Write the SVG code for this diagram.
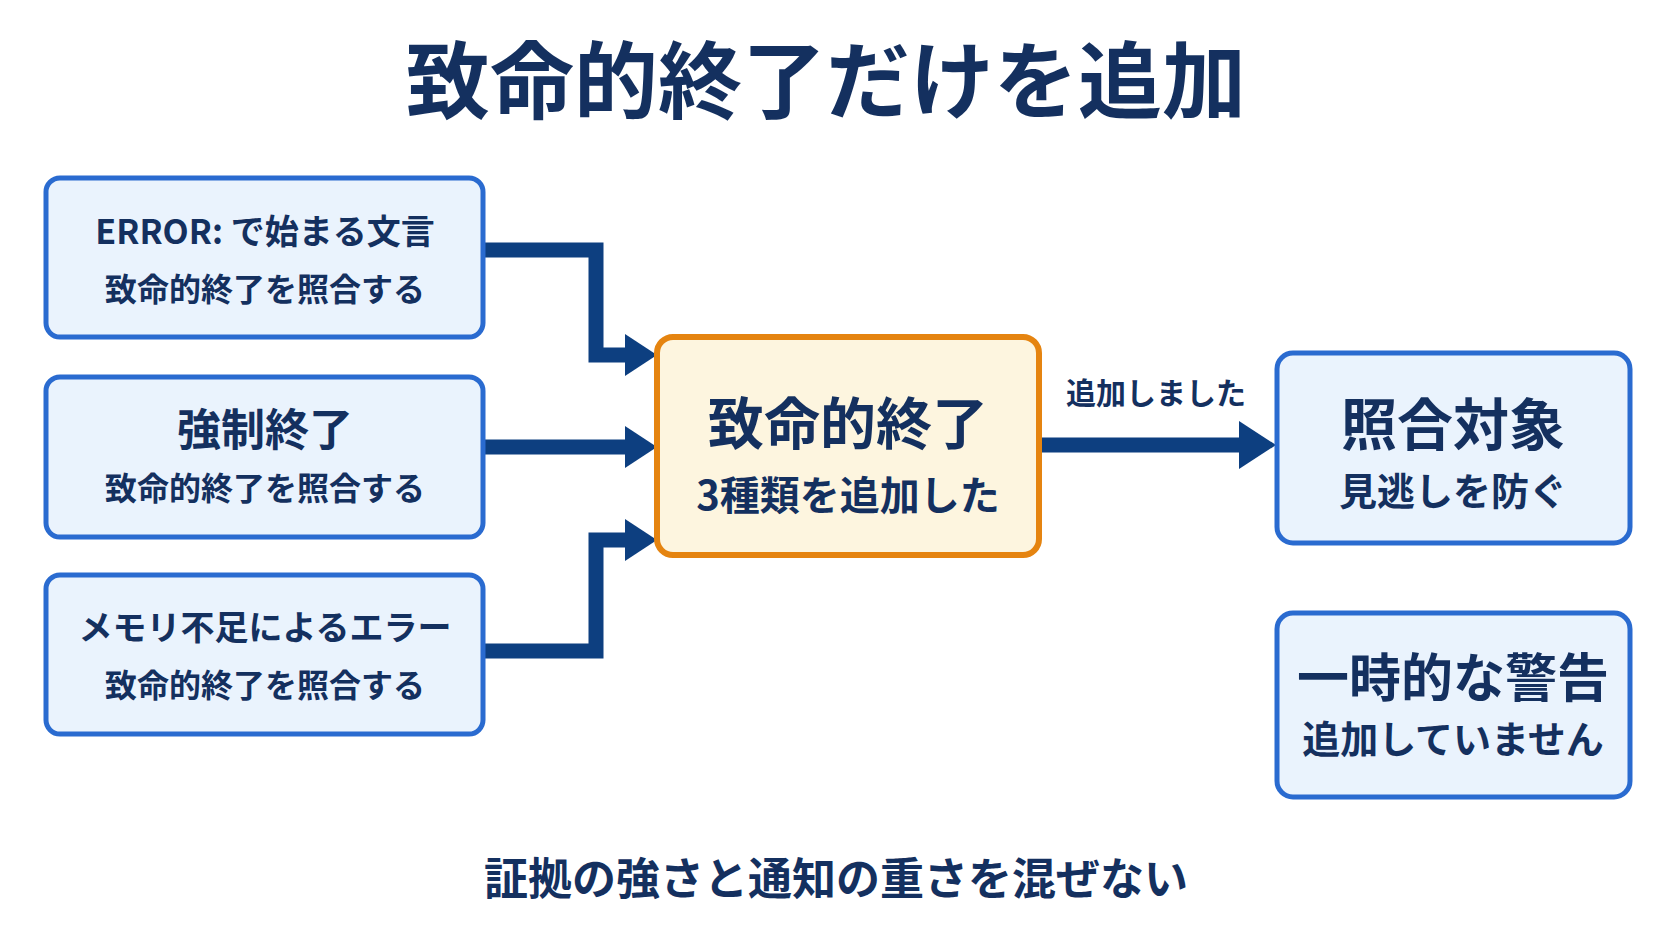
<svg xmlns="http://www.w3.org/2000/svg" width="1672" height="941" viewBox="0 0 1672 941">
<defs><style>
text{font-family:"Noto Sans CJK JP","Noto Sans",sans-serif;font-weight:700;fill:#14305f;text-anchor:middle}
.b{fill:#eaf3fd;stroke:#2a6bd0;stroke-width:5}
.c{fill:#fdf5df;stroke:#e58410;stroke-width:6}
.l{fill:none;stroke:#0d3f80;stroke-width:15}
.h{fill:#0d3f80}
</style></defs>
<rect width="1672" height="941" fill="#fff"/>
<text x="826" y="112" font-size="84">致命的終了だけを追加</text>
<g id="connectors">
<path class="l" d="M483 250H596V355H630"/>
<path class="h" d="M625 334L657 355L625 376Z"/>
<path class="l" d="M483 447H630"/>
<path class="h" d="M625 426L657 447L625 468Z"/>
<path class="l" d="M483 651H596V540H630"/>
<path class="h" d="M625 519L657 540L625 561Z"/>
<path class="l" d="M1039 445H1245"/>
<path class="h" d="M1239 421L1276 445L1239 469Z"/>
<text x="1156" y="404" font-size="30" font-weight="500">追加しました</text>
</g>
<g id="n1"><rect class="b" x="46" y="178" width="437" height="159" rx="14"/>
<text x="265" y="244" font-size="34">ERROR: で始まる文言</text>
<text x="265" y="301" font-size="32">致命的終了を照合する</text></g>
<g id="n2"><rect class="b" x="46" y="377" width="437" height="160" rx="14"/>
<text x="265" y="446" font-size="44">強制終了</text>
<text x="265" y="500" font-size="32">致命的終了を照合する</text></g>
<g id="n3"><rect class="b" x="46" y="575" width="437" height="159" rx="14"/>
<text x="265" y="640" font-size="34">メモリ不足によるエラー</text>
<text x="265" y="697" font-size="32">致命的終了を照合する</text></g>
<g id="n4"><rect class="c" x="657" y="337" width="382" height="218" rx="16"/>
<text x="848" y="444" font-size="56">致命的終了</text>
<text x="848" y="510" font-size="40">3種類を追加した</text></g>
<g id="n5"><rect class="b" x="1277" y="353" width="353" height="190" rx="16"/>
<text x="1453" y="445" font-size="56">照合対象</text>
<text x="1453" y="505" font-size="38">見逃しを防ぐ</text></g>
<g id="n6"><rect class="b" x="1277" y="613" width="353" height="184" rx="16"/>
<text x="1453" y="697" font-size="52">一時的な警告</text>
<text x="1453" y="753" font-size="38">追加していません</text></g>
<text x="836" y="895" font-size="44">証拠の強さと通知の重さを混ぜない</text>
</svg>
